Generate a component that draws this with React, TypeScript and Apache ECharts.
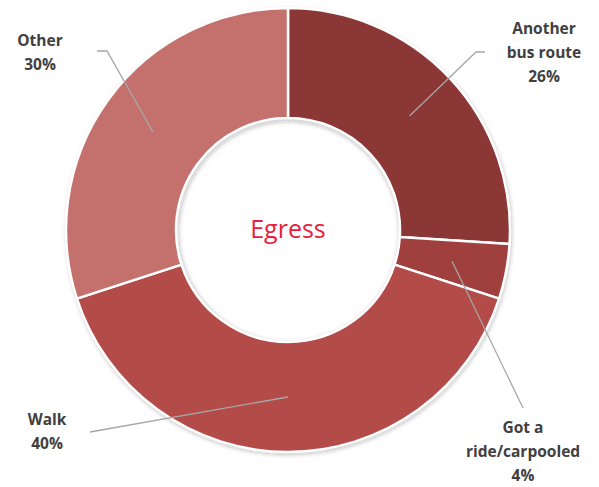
import React, { useEffect, useRef } from "react";
import * as echarts from "echarts";

const categories = ["Another bus route", "Got a ride/carpooled", "Walk", "Other"];
const labelTexts = ["Another\nbus route", "Got a\nride/carpooled", "Walk", "Other"];
const values = [26, 4, 40, 30];
const colors = ["#8a3735", "#a0403e", "#b34b49", "#c4716e"];
const centerTitle = "Egress";

// label layout (pixel anchors for label centre and leader-line elbow/end)
const labelCenters = [[544, 52], [523, 451], [47, 431], [40, 52]];
const lineElbows = [[476, 52], [523, 408], [90, 432], [107, 51]];
const lineEnds = [[485, 52], [523, 408], [90, 432], [97, 51]];

const CX = 288;
const CY = 230;
const R_IN = 112;
const R_OUT = 222;

export default function App() {
  const ref = useRef<HTMLDivElement>(null);
  useEffect(() => {
    document.body.style.margin = "0";
    if (!ref.current) return;
    const chart = echarts.init(ref.current, undefined, { renderer: "svg" });
    const total = values.reduce((a, b) => a + b, 0);
    const mids: number[] = [];
    let acc = 0;
    values.forEach((v) => {
      const a0 = (acc / total) * Math.PI * 2;
      acc += v;
      const a1 = (acc / total) * Math.PI * 2;
      mids.push((a0 + a1) / 2);
    });
    const rMid = (R_IN + R_OUT) / 2;
    const leaderLines = mids.map((m, i) => ({
      type: "polyline",
      z: 50,
      silent: true,
      shape: {
        points: [
          [CX + rMid * Math.sin(m), CY - rMid * Math.cos(m)],
          lineElbows[i],
          lineEnds[i],
        ],
      },
      style: { stroke: "#a6a6a6", lineWidth: 1.3, fill: null },
    }));
    chart.setOption({
      animation: false,
      backgroundColor: "#ffffff",
      graphic: [
        ...leaderLines,
        {
          type: "text",
          x: CX,
          y: CY - 2,
          z: 100,
          style: {
            text: centerTitle,
            fill: "#e8203d",
            font: "normal 25px 'Open Sans', sans-serif",
            textAlign: "center",
            textVerticalAlign: "middle",
          },
        },
      ],
      series: [
        {
          type: "pie",
          z: 1,
          silent: true,
          center: [CX + 1, CY + 2],
          radius: [R_IN - 1, R_OUT],
          label: { show: false },
          labelLine: { show: false },
          itemStyle: {
            color: "#d9d9d9",
            shadowBlur: 5,
            shadowColor: "rgba(0,0,0,0.35)",
          },
          data: [{ name: "shadow", value: 1 }],
          tooltip: { show: false },
        },
        {
          type: "pie",
          z: 2,
          center: [CX, CY],
          radius: [R_IN, R_OUT],
          startAngle: 90,
          clockwise: true,
          avoidLabelOverlap: false,
          itemStyle: {
            borderColor: "#ffffff",
            borderWidth: 2.5,
          },
          label: {
            show: true,
            position: "outside",
            formatter: (p: any) => `${labelTexts[p.dataIndex]}\n${p.value}%`,
            color: "#404040",
            fontFamily: "'Open Sans', sans-serif",
            fontWeight: "bold",
            fontSize: 15.5,
            lineHeight: 24,
            align: "center",
          },
          labelLine: { show: false },
          labelLayout: (p: any) => {
            const i = p.dataIndex;
            return {
              x: labelCenters[i][0],
              y: labelCenters[i][1],
              align: "center",
              verticalAlign: "middle",
            };
          },
          data: categories.map((c, i) => ({
            name: c,
            value: values[i],
            itemStyle: { color: colors[i] },
          })),
        },
      ],
    });
    return () => chart.dispose();
  }, []);
  return <div ref={ref} style={{ width: 599, height: 487 }} />;
}
